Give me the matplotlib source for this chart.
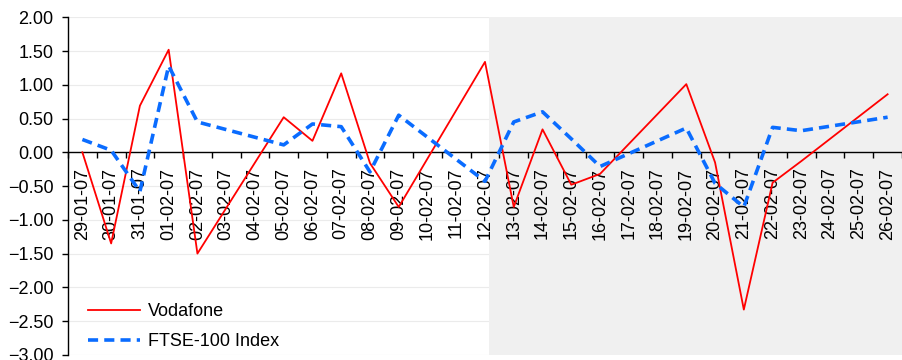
# -*- coding: utf-8 -*-
import matplotlib
matplotlib.use('Agg')
import matplotlib.pyplot as mplt
import matplotlib.dates as mdates
import matplotlib.ticker as mticker
import datetime

# dados diarios (so dias uteis, o eixo e de datas)
datas = ['29-01-07', '30-01-07', '31-01-07', '01-02-07', '02-02-07',
         '05-02-07', '06-02-07', '07-02-07', '08-02-07', '09-02-07',
         '12-02-07', '13-02-07', '14-02-07', '15-02-07', '16-02-07',
         '19-02-07', '20-02-07', '21-02-07', '22-02-07', '23-02-07',
         '26-02-07']
vodafone = [0.00, -1.35, 0.69, 1.52, -1.50,
            0.52, 0.17, 1.17, -0.16, -0.81,
            1.34, -0.81, 0.34, -0.48, -0.32,
            1.01, -0.15, -2.33, -0.45, -0.13,
            0.86]
ftse = [0.19, 0.03, -0.58, 1.28, 0.45,
        0.11, 0.42, 0.38, -0.29, 0.55,
        -0.43, 0.45, 0.60, 0.20, -0.21,
        0.36, -0.46, -0.81, 0.37, 0.32,
        0.52]
inicio_sombra = '12-02-07 03:00'

mplt.rcParams['font.family'] = ['Liberation Sans', 'DejaVu Sans']
mplt.rcParams['font.size'] = 13

xs = [datetime.datetime.strptime(d, '%d-%m-%y') for d in datas]
x_sombra = datetime.datetime.strptime(inicio_sombra, '%d-%m-%y %H:%M')
meio_dia = datetime.timedelta(hours=12)

fig = mplt.figure(figsize=(9.02, 3.6), dpi=100)
ax = fig.add_axes([0.0754, 0.0144, 0.9246, 0.9375])

ax.set_xlim(xs[0] - meio_dia, xs[-1] + meio_dia)
ax.set_ylim(-3, 2)
ax.yaxis.set_major_locator(mticker.MultipleLocator(0.5))
ax.yaxis.set_major_formatter(mticker.FuncFormatter(
    lambda v, p: '{0:.2f}'.format(v).replace('-', '\u2212')))

# grade por baixo da area sombreada
for yv in ax.get_yticks():
    ax.axhline(yv, color='#ebebeb', lw=0.8, zorder=0.5)

ax.axvspan(x_sombra, xs[-1] + meio_dia, color='#f0f0f0', lw=0, zorder=1)

ax.plot(xs, vodafone, color='#ff0000', lw=1.3, label='Vodafone', zorder=3)
l2, = ax.plot(xs, ftse, color='#0a6cff', lw=2.6, label='FTSE-100 Index', zorder=3)
l2.set_dashes((2.8, 1.7))

ax.xaxis.set_major_locator(mdates.DayLocator())
ax.xaxis.set_major_formatter(mdates.DateFormatter('%d-%m-%y'))
ax.xaxis.set_minor_locator(mdates.HourLocator(byhour=12))

ax.spines['top'].set_visible(False)
ax.spines['right'].set_visible(False)
ax.spines['bottom'].set_position(('data', 0))
for s in ('left', 'bottom'):
    ax.spines[s].set_linewidth(1.0)
    ax.spines[s].set_color('black')

ax.tick_params(axis='x', which='major', length=0, pad=11, labelrotation=90)
ax.tick_params(axis='x', which='minor', length=4.3, width=1.0, direction='out')
ax.tick_params(axis='y', length=4.3, width=1.0, direction='out', pad=6)

ax.legend(loc='lower left', bbox_to_anchor=(0.024, 0.014), frameon=False,
          borderpad=0, borderaxespad=0, handlelength=2.9, handletextpad=0.4,
          labelspacing=0.7)

fig.savefig('out.png', dpi=100)
